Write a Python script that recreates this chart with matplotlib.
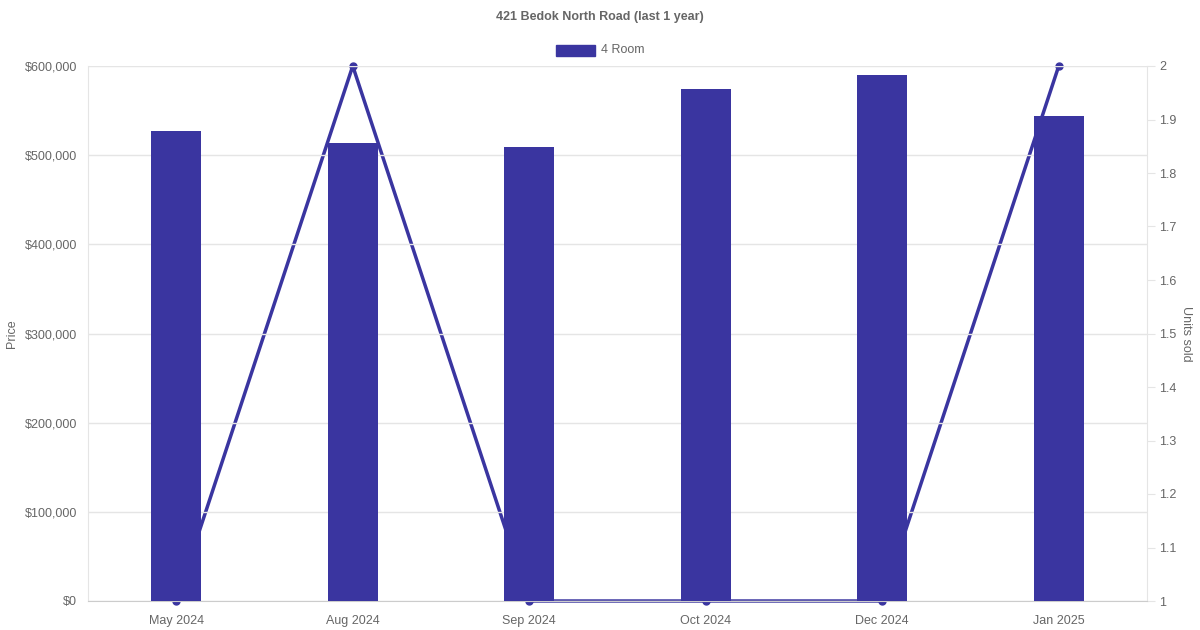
import matplotlib
matplotlib.use('agg')
import matplotlib.pyplot as plt
from matplotlib.ticker import FuncFormatter, MultipleLocator
from matplotlib.patches import Rectangle

months = ['May 2024', 'Aug 2024', 'Sep 2024', 'Oct 2024', 'Dec 2024', 'Jan 2025']
prices = [527000, 514000, 509000, 574000, 590000, 544000]
units_sold = [1, 2, 1, 1, 1, 2]

color = '#3a35a0'
grey = '#666666'
grid = '#e5e5e5'

plt.rcParams['font.family'] = ['Liberation Sans', 'DejaVu Sans']

fig = plt.figure(figsize=(12, 6.3), dpi=100)
ax = fig.add_axes([88 / 1200, 1 - 601 / 630, (1147 - 88) / 1200, (601 - 66) / 630])
ax2 = ax.twinx()

x = list(range(len(months)))

# line on the secondary axis, drawn below the bars
ax2.plot(x, units_sold, color=color, linewidth=2.5, marker='o', markersize=5, zorder=1, clip_on=False)
ax2.set_ylim(1, 2)
ax2.yaxis.set_major_locator(MultipleLocator(0.1))
ax2.yaxis.set_major_formatter(FuncFormatter(lambda v, p: ('%.1f' % v).rstrip('0').rstrip('.')))
ax2.set_ylabel('Units sold', color=grey, fontsize=9, rotation=270, labelpad=11)

ax.set_zorder(ax2.get_zorder() + 1)
ax.patch.set_visible(False)
ax.bar(x, prices, width=0.283, color=color, zorder=3)
ax.set_ylim(0, 600000)
ax.set_xlim(-0.5, len(months) - 0.5)
ax.yaxis.set_major_locator(MultipleLocator(100000))
ax.yaxis.set_major_formatter(FuncFormatter(lambda v, p: '${:,.0f}'.format(v)))
ax.set_xticks(x)
ax.set_xticklabels(months)
ax.set_ylabel('Price', color=grey, fontsize=9, labelpad=5)
ax.grid(axis='y', color=grid, linewidth=1, zorder=0)

for a in (ax, ax2):
    for s in a.spines.values():
        s.set_visible(False)
    a.tick_params(colors=grey, labelsize=9, length=0)
ax.spines['left'].set_visible(True)
ax.spines['left'].set_color(grid)
ax.spines['bottom'].set_visible(True)
ax.spines['bottom'].set_color('#cccccc')
ax2.spines['right'].set_visible(True)
ax2.spines['right'].set_color(grid)
ax2.tick_params(axis='y', length=6, color=grid, pad=3)
ax.tick_params(axis='y', pad=8)
ax.tick_params(axis='x', pad=10)

fig.text(0.5, 1 - 17 / 630, '421 Bedok North Road (last 1 year)', ha='center', va='center',
         fontsize=9, fontweight='bold', color=grey)

# legend
fig.patches.append(Rectangle((556 / 1200, 1 - 56 / 630), 39 / 1200, 11 / 630,
                             transform=fig.transFigure, color=color))
fig.text(601 / 1200, 1 - 50 / 630, '4 Room', ha='left', va='center', fontsize=9, color=grey)

fig.savefig('out.png', dpi=100)
